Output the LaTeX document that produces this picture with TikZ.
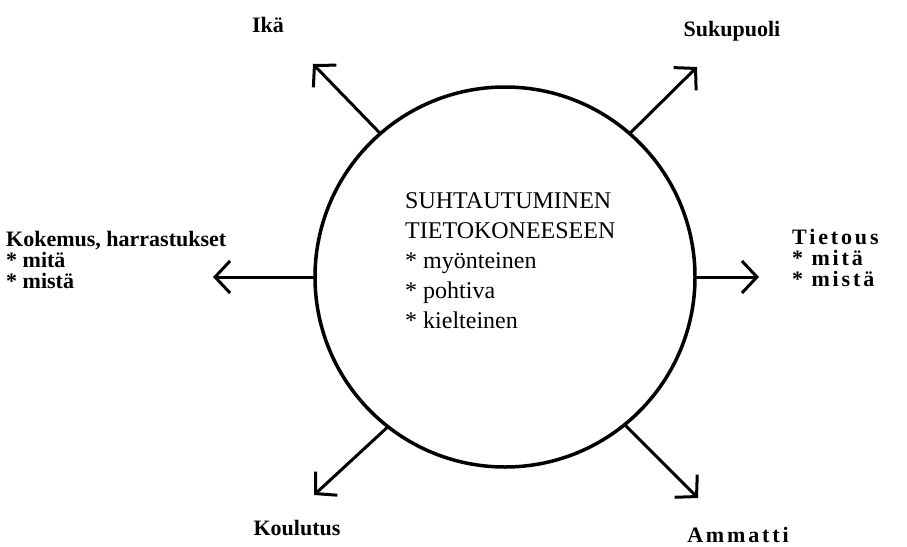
\documentclass[tikz,border=0pt]{standalone}
\usepackage{fontspec}
\setmainfont{Liberation Serif}
\usetikzlibrary{arrows.meta}

\tikzset{
    kring/.style={circle, draw, line width=3.5pt, minimum size=380pt, inner sep=0pt, outer sep=0pt},
    pijl/.style={line width=3pt, -{Straight Barb[length=15pt,width=32pt]}},
    midtekst/.style={font=\fontsize{24}{30}\selectfont, align=left, inner sep=0pt, anchor=north west},
    tekst/.style={font=\fontsize{22}{21}\selectfont\bfseries, align=left, inner sep=0pt},
    wijdtekst/.style={font=\fontsize{22}{21}\selectfont\bfseries\addfontfeature{LetterSpace=13}, align=left, inner sep=0pt}
}

\begin{document}
\begin{tikzpicture}[x=1pt,y=-1pt]
    \useasboundingbox (0,0) rectangle (907,546);

    \node[kring] (kring) at (505,277) {};
    \node[midtekst] (midden) at (405,192) {SUHTAUTUMINEN\\TIETOKONEESEEN\\* myönteinen\\* pohtiva\\* kielteinen};

    % teksten rond de cirkel
    \node[tekst] (ika) at (268,25) {Ikä};
    \node[tekst] (sukupuoli) at (732,31) {Sukupuoli};
    \node[tekst, anchor=north west] (kokemus) at (6,231) {Kokemus, harrastukset\\* mitä\\* mistä};
    \node[wijdtekst, anchor=north west] (tietous) at (792,229) {Tietous\\* mitä\\* mistä};
    \node[tekst] (koulutus) at (297,528) {Koulutus};
    \node[wijdtekst] (ammatti) at (738,535) {Ammatti};

    \coordinate (ikanuoli) at (313,64);
    \coordinate (sukunuoli) at (697,67);
    \coordinate (kokenuoli) at (213,277);
    \coordinate (tietonuoli) at (759,277);
    \coordinate (koulunuoli) at (314,495);
    \coordinate (ammanuoli) at (698,498);

    \foreach \hoek/\punt in {131/ikanuoli, 49/sukunuoli, 180/kokenuoli, 0/tietonuoli, 232/koulunuoli, -51/ammanuoli}
    {
        \draw[pijl] (kring.\hoek) -- (\punt);
    }
\end{tikzpicture}
\end{document}
